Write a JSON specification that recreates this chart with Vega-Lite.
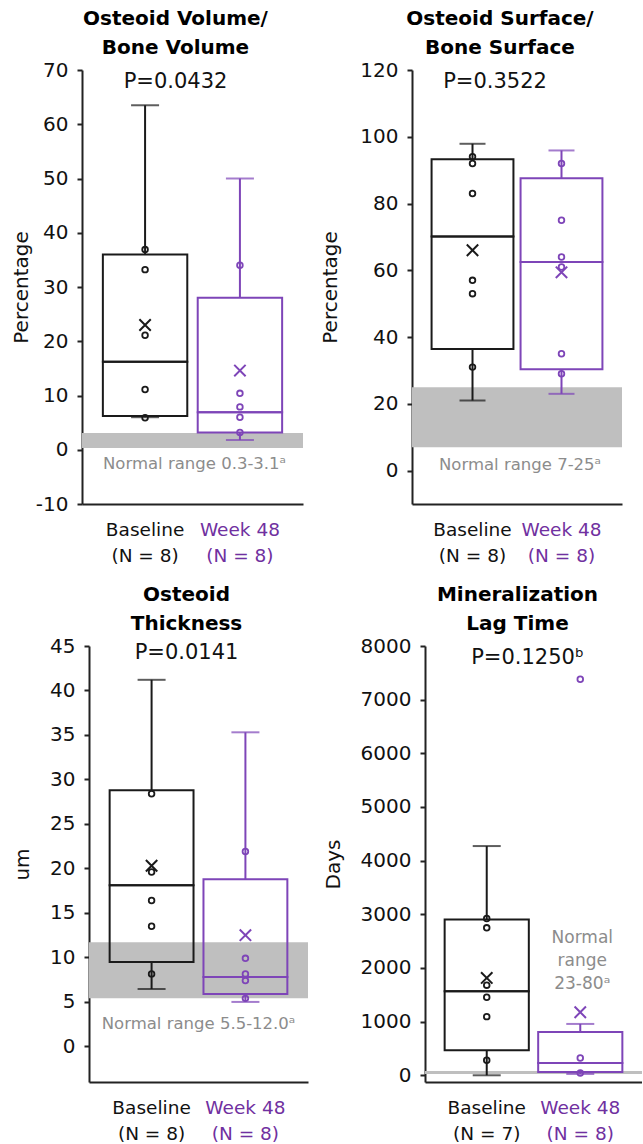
{
  "$schema": "https://vega.github.io/schema/vega-lite/v6.json",
  "padding": {"left": 11, "top": 9, "right": 0, "bottom": 0},
  "background": "white",
  "spacing": 20,
  "config": {
    "font": "DejaVu Sans",
    "view": {"stroke": null},
    "title": {"fontSize": 20, "fontWeight": "bold", "color": "#000", "lineHeight": 29, "offset": 2},
    "axisX": {"domainColor": "#222", "domainWidth": 2, "ticks": false, "labelAngle": 0, "labelFontSize": 18.5, "labelPadding": 16, "labelLineHeight": 26, "labelBaseline": "top"},
    "axisY": {"domainColor": "#222", "domainWidth": 2, "tickColor": "#222", "tickWidth": 2, "tickSize": 5, "grid": false, "labelFontSize": 20, "labelColor": "#111", "labelPadding": 9, "titleFontSize": 20, "titleFontWeight": "normal", "titleColor": "#111"}
  },
  "datasets": {
    "n1": [{"lo": 0.3, "hi": 3.1, "label": "Normal range 0.3-3.1ᵃ", "pval": "P=0.0432"}],
    "s1": [
      {"group": "Baseline", "min": 6, "q1": 6.2, "median": 16.2, "q3": 36, "max": 63.5, "mean": 23},
      {"group": "Week 48", "min": 1.8, "q1": 3.2, "median": 6.9, "q3": 28, "max": 50, "mean": 14.6}
    ],
    "p1": [
      {"group": "Baseline", "value": 36.9}, {"group": "Baseline", "value": 33.2}, {"group": "Baseline", "value": 21.1}, {"group": "Baseline", "value": 11.1}, {"group": "Baseline", "value": 5.9},
      {"group": "Week 48", "value": 34}, {"group": "Week 48", "value": 10.4}, {"group": "Week 48", "value": 7.9}, {"group": "Week 48", "value": 6.0}, {"group": "Week 48", "value": 3.2}
    ],
    "n2": [{"lo": 7, "hi": 25, "label": "Normal range 7-25ᵃ", "pval": "P=0.3522"}],
    "s2": [
      {"group": "Baseline", "min": 21, "q1": 36.4, "median": 70.1, "q3": 93.3, "max": 97.9, "mean": 66},
      {"group": "Week 48", "min": 23, "q1": 30.4, "median": 62.5, "q3": 87.6, "max": 95.9, "mean": 59.4}
    ],
    "p2": [
      {"group": "Baseline", "value": 94}, {"group": "Baseline", "value": 92}, {"group": "Baseline", "value": 83}, {"group": "Baseline", "value": 57}, {"group": "Baseline", "value": 53}, {"group": "Baseline", "value": 31},
      {"group": "Week 48", "value": 92}, {"group": "Week 48", "value": 75}, {"group": "Week 48", "value": 64}, {"group": "Week 48", "value": 61}, {"group": "Week 48", "value": 35}, {"group": "Week 48", "value": 29}
    ],
    "n3": [{"lo": 5.4, "hi": 11.7, "label": "Normal range 5.5-12.0ᵃ", "pval": "P=0.0141"}],
    "s3": [
      {"group": "Baseline", "min": 6.45, "q1": 9.5, "median": 18.1, "q3": 28.8, "max": 41.2, "mean": 20.3},
      {"group": "Week 48", "min": 5.0, "q1": 5.9, "median": 7.8, "q3": 18.8, "max": 35.3, "mean": 12.5}
    ],
    "p3": [
      {"group": "Baseline", "value": 28.4}, {"group": "Baseline", "value": 19.6}, {"group": "Baseline", "value": 16.4}, {"group": "Baseline", "value": 13.5}, {"group": "Baseline", "value": 8.15},
      {"group": "Week 48", "value": 21.9}, {"group": "Week 48", "value": 9.9}, {"group": "Week 48", "value": 8.15}, {"group": "Week 48", "value": 7.4}, {"group": "Week 48", "value": 5.4}
    ],
    "n4": [{"lo": 23, "hi": 80, "label": "Normal\nrange\n23-80ᵃ", "pval": "P=0.1250ᵇ"}],
    "s4": [
      {"group": "Baseline", "min": 0, "q1": 466, "median": 1567, "q3": 2903, "max": 4272, "mean": 1815},
      {"group": "Week 48", "min": 25, "q1": 62, "median": 230, "q3": 808, "max": 957, "mean": 1175}
    ],
    "p4": [
      {"group": "Baseline", "value": 2922}, {"group": "Baseline", "value": 2748}, {"group": "Baseline", "value": 1679}, {"group": "Baseline", "value": 1455}, {"group": "Baseline", "value": 1093}, {"group": "Baseline", "value": 280},
      {"group": "Week 48", "value": 7380}, {"group": "Week 48", "value": 323}, {"group": "Week 48", "value": 43}
    ]
  },
  "vconcat": [
    {
      "bounds": "flush",
      "spacing": 109,
      "hconcat": [
        {
          "width": 221, "height": 434,
          "title": {"text": ["Osteoid Volume/", "Bone Volume"], "dx": -17},
          "layer": [
            {"data": {"name": "n1"}, "mark": {"type": "rect", "color": "#BFBFBF"},
             "encoding": {"y": {"field": "lo", "type": "quantitative", "scale": {"domain": [-10, 70], "nice": false, "zero": false}, "axis": {"title": "Percentage", "values": [-10, 0, 10, 20, 30, 40, 50, 60, 70], "labelExpr": "'' + datum.value", "titlePadding": 4}}, "y2": {"field": "hi"}}},
            {"data": {"name": "n1"}, "mark": {"type": "text", "color": "#8C8C8C", "fontSize": 16.5, "dx": 2, "baseline": "middle"},
             "encoding": {"text": {"field": "label"}, "y": {"datum": -2.6}}},
            {"data": {"name": "n1"}, "mark": {"type": "text", "color": "#111", "fontSize": 21, "dx": -17, "baseline": "middle"},
             "encoding": {"text": {"field": "pval"}, "y": {"datum": 67.8}}},
            {"data": {"name": "s1"},
             "encoding": {
               "x": {"field": "group", "type": "nominal", "scale": {"domain": ["Baseline", "Week 48"], "paddingInner": 0.11, "paddingOuter": 0.22}, "axis": {"title": null, "labelExpr": "[datum.value, '(N = 8)']", "labelColor": {"condition": {"test": "datum.value === 'Week 48'", "value": "#7030A0"}, "value": "#111"}}},
               "color": {"field": "group", "type": "nominal", "scale": {"domain": ["Baseline", "Week 48"], "range": ["#1A1A1A", "#7E45B8"]}, "legend": null}
             },
             "layer": [
               {"mark": {"type": "rule", "strokeWidth": 2}, "encoding": {"y": {"field": "q3", "type": "quantitative"}, "y2": {"field": "max"}}},
               {"mark": {"type": "rule", "strokeWidth": 2}, "encoding": {"y": {"field": "min", "type": "quantitative"}, "y2": {"field": "q1"}}},
               {"mark": {"type": "tick", "thickness": 2, "size": 28}, "encoding": {"y": {"field": "max", "type": "quantitative"}}},
               {"mark": {"type": "tick", "thickness": 2, "size": 28}, "encoding": {"y": {"field": "min", "type": "quantitative"}}},
               {"mark": {"type": "bar", "filled": false, "strokeWidth": 2}, "encoding": {"y": {"field": "q1", "type": "quantitative"}, "y2": {"field": "median"}}},
               {"mark": {"type": "bar", "filled": false, "strokeWidth": 2}, "encoding": {"y": {"field": "median", "type": "quantitative"}, "y2": {"field": "q3"}}},
               {"mark": {"type": "point", "shape": "M-1,-1L1,1M1,-1L-1,1", "filled": false, "size": 130, "strokeWidth": 2, "opacity": 1}, "encoding": {"y": {"field": "mean", "type": "quantitative"}}}
             ]},
            {"data": {"name": "p1"}, "mark": {"type": "point", "shape": "circle", "filled": false, "size": 32, "strokeWidth": 1.8, "opacity": 1},
             "encoding": {"x": {"field": "group", "type": "nominal"}, "y": {"field": "value", "type": "quantitative"}, "color": {"field": "group", "type": "nominal", "legend": null}}}
          ]
        },
        {
          "width": 210, "height": 434,
          "title": {"text": ["Osteoid Surface/", "Bone Surface"], "dx": -17},
          "layer": [
            {"data": {"name": "n2"}, "mark": {"type": "rect", "color": "#BFBFBF"},
             "encoding": {"y": {"field": "lo", "type": "quantitative", "scale": {"domain": [-10, 120], "nice": false, "zero": false}, "axis": {"title": "Percentage", "values": [0, 20, 40, 60, 80, 100, 120], "labelExpr": "'' + datum.value", "titlePadding": 19}}, "y2": {"field": "hi"}}},
            {"data": {"name": "n2"}, "mark": {"type": "text", "color": "#8C8C8C", "fontSize": 16.5, "dx": 3, "baseline": "middle"},
             "encoding": {"text": {"field": "label"}, "y": {"datum": 1.8}}},
            {"data": {"name": "n2"}, "mark": {"type": "text", "color": "#111", "fontSize": 21, "dx": -22, "baseline": "middle"},
             "encoding": {"text": {"field": "pval"}, "y": {"datum": 116.4}}},
            {"data": {"name": "s2"},
             "encoding": {
               "x": {"field": "group", "type": "nominal", "scale": {"domain": ["Baseline", "Week 48"], "paddingInner": 0.08, "paddingOuter": 0.22}, "axis": {"title": null, "labelExpr": "[datum.value, '(N = 8)']", "labelColor": {"condition": {"test": "datum.value === 'Week 48'", "value": "#7030A0"}, "value": "#111"}}},
               "color": {"field": "group", "type": "nominal", "scale": {"domain": ["Baseline", "Week 48"], "range": ["#1A1A1A", "#7E45B8"]}, "legend": null}
             },
             "layer": [
               {"mark": {"type": "rule", "strokeWidth": 2}, "encoding": {"y": {"field": "q3", "type": "quantitative"}, "y2": {"field": "max"}}},
               {"mark": {"type": "rule", "strokeWidth": 2}, "encoding": {"y": {"field": "min", "type": "quantitative"}, "y2": {"field": "q1"}}},
               {"mark": {"type": "tick", "thickness": 2, "size": 26}, "encoding": {"y": {"field": "max", "type": "quantitative"}}},
               {"mark": {"type": "tick", "thickness": 2, "size": 26}, "encoding": {"y": {"field": "min", "type": "quantitative"}}},
               {"mark": {"type": "bar", "filled": false, "strokeWidth": 2}, "encoding": {"y": {"field": "q1", "type": "quantitative"}, "y2": {"field": "median"}}},
               {"mark": {"type": "bar", "filled": false, "strokeWidth": 2}, "encoding": {"y": {"field": "median", "type": "quantitative"}, "y2": {"field": "q3"}}},
               {"mark": {"type": "point", "shape": "M-1,-1L1,1M1,-1L-1,1", "filled": false, "size": 130, "strokeWidth": 2, "opacity": 1}, "encoding": {"y": {"field": "mean", "type": "quantitative"}}}
             ]},
            {"data": {"name": "p2"}, "mark": {"type": "point", "shape": "circle", "filled": false, "size": 32, "strokeWidth": 1.8, "opacity": 1},
             "encoding": {"x": {"field": "group", "type": "nominal"}, "y": {"field": "value", "type": "quantitative"}, "color": {"field": "group", "type": "nominal", "legend": null}}}
          ]
        }
      ]
    },
    {
      "bounds": "flush",
      "spacing": 6,
      "hconcat": [
        {"width": 1, "height": 1, "data": {"values": [{"a": 0}]}, "mark": {"type": "point", "opacity": 0}, "encoding": {}},
        {
          "bounds": "flush",
          "spacing": 117,
          "hconcat": [
            {
              "width": 219, "height": 436,
              "title": {"text": ["Osteoid", "Thickness"], "dx": -12},
              "layer": [
                {"data": {"name": "n3"}, "mark": {"type": "rect", "color": "#BFBFBF"},
                 "encoding": {"y": {"field": "lo", "type": "quantitative", "scale": {"domain": [-4, 45], "nice": false, "zero": false}, "axis": {"title": "um", "values": [0, 5, 10, 15, 20, 25, 30, 35, 40, 45], "labelExpr": "'' + datum.value", "titlePadding": 17}}, "y2": {"field": "hi"}}},
                {"data": {"name": "n3"}, "mark": {"type": "text", "color": "#8C8C8C", "fontSize": 16.5, "dx": 0, "baseline": "middle"},
                 "encoding": {"text": {"field": "label"}, "y": {"datum": 2.5}}},
                {"data": {"name": "n3"}, "mark": {"type": "text", "color": "#111", "fontSize": 21, "dx": -12, "baseline": "middle"},
                 "encoding": {"text": {"field": "pval"}, "y": {"datum": 44.2}}},
                {"data": {"name": "s3"},
                 "encoding": {
                   "x": {"field": "group", "type": "nominal", "scale": {"domain": ["Baseline", "Week 48"], "paddingInner": 0.106, "paddingOuter": 0.22}, "axis": {"title": null, "labelExpr": "[datum.value, '(N = 8)']", "labelColor": {"condition": {"test": "datum.value === 'Week 48'", "value": "#7030A0"}, "value": "#111"}}},
                   "color": {"field": "group", "type": "nominal", "scale": {"domain": ["Baseline", "Week 48"], "range": ["#1A1A1A", "#7E45B8"]}, "legend": null}
                 },
                 "layer": [
                   {"mark": {"type": "rule", "strokeWidth": 2}, "encoding": {"y": {"field": "q3", "type": "quantitative"}, "y2": {"field": "max"}}},
                   {"mark": {"type": "rule", "strokeWidth": 2}, "encoding": {"y": {"field": "min", "type": "quantitative"}, "y2": {"field": "q1"}}},
                   {"mark": {"type": "tick", "thickness": 2, "size": 28}, "encoding": {"y": {"field": "max", "type": "quantitative"}}},
                   {"mark": {"type": "tick", "thickness": 2, "size": 28}, "encoding": {"y": {"field": "min", "type": "quantitative"}}},
                   {"mark": {"type": "bar", "filled": false, "strokeWidth": 2}, "encoding": {"y": {"field": "q1", "type": "quantitative"}, "y2": {"field": "median"}}},
                   {"mark": {"type": "bar", "filled": false, "strokeWidth": 2}, "encoding": {"y": {"field": "median", "type": "quantitative"}, "y2": {"field": "q3"}}},
                   {"mark": {"type": "point", "shape": "M-1,-1L1,1M1,-1L-1,1", "filled": false, "size": 130, "strokeWidth": 2, "opacity": 1}, "encoding": {"y": {"field": "mean", "type": "quantitative"}}}
                 ]},
                {"data": {"name": "p3"}, "mark": {"type": "point", "shape": "circle", "filled": false, "size": 32, "strokeWidth": 1.8, "opacity": 1},
                 "encoding": {"x": {"field": "group", "type": "nominal"}, "y": {"field": "value", "type": "quantitative"}, "color": {"field": "group", "type": "nominal", "legend": null}}}
              ]
            },
            {
              "width": 217, "height": 436,
              "title": {"text": ["Mineralization", "Lag Time"], "dx": -16},
              "layer": [
                {"data": {"name": "n4"}, "mark": {"type": "rect", "color": "#BFBFBF"},
                 "encoding": {"y": {"field": "lo", "type": "quantitative", "scale": {"domain": [-125, 8000], "nice": false, "zero": false}, "axis": {"title": "Days", "values": [0, 1000, 2000, 3000, 4000, 5000, 6000, 7000, 8000], "labelExpr": "'' + datum.value", "titlePadding": 17}}, "y2": {"field": "hi"}}},
                {"data": {"name": "n4"}, "mark": {"type": "text", "color": "#8C8C8C", "fontSize": 17, "dx": 2, "baseline": "middle", "lineHeight": 23, "lineBreak": "\n"},
                 "encoding": {"text": {"field": "label"}, "x": {"datum": "Week 48"}, "y": {"datum": 2565}}},
                {"data": {"name": "n4"}, "mark": {"type": "text", "color": "#111", "fontSize": 21, "dx": -6, "baseline": "middle"},
                 "encoding": {"text": {"field": "pval"}, "y": {"datum": 7775}}},
                {"data": {"name": "s4"},
                 "encoding": {
                   "x": {"field": "group", "type": "nominal", "scale": {"domain": ["Baseline", "Week 48"], "paddingInner": 0.1, "paddingOuter": 0.21}, "axis": {"title": null, "labelExpr": "[datum.value, datum.value === 'Baseline' ? '(N = 7)' : '(N = 8)']", "labelColor": {"condition": {"test": "datum.value === 'Week 48'", "value": "#7030A0"}, "value": "#111"}}},
                   "color": {"field": "group", "type": "nominal", "scale": {"domain": ["Baseline", "Week 48"], "range": ["#1A1A1A", "#7E45B8"]}, "legend": null}
                 },
                 "layer": [
                   {"mark": {"type": "rule", "strokeWidth": 2}, "encoding": {"y": {"field": "q3", "type": "quantitative"}, "y2": {"field": "max"}}},
                   {"mark": {"type": "rule", "strokeWidth": 2}, "encoding": {"y": {"field": "min", "type": "quantitative"}, "y2": {"field": "q1"}}},
                   {"mark": {"type": "tick", "thickness": 2, "size": 28}, "encoding": {"y": {"field": "max", "type": "quantitative"}}},
                   {"mark": {"type": "tick", "thickness": 2, "size": 28}, "encoding": {"y": {"field": "min", "type": "quantitative"}}},
                   {"mark": {"type": "bar", "filled": false, "strokeWidth": 2}, "encoding": {"y": {"field": "q1", "type": "quantitative"}, "y2": {"field": "median"}}},
                   {"mark": {"type": "bar", "filled": false, "strokeWidth": 2}, "encoding": {"y": {"field": "median", "type": "quantitative"}, "y2": {"field": "q3"}}},
                   {"mark": {"type": "point", "shape": "M-1,-1L1,1M1,-1L-1,1", "filled": false, "size": 130, "strokeWidth": 2, "opacity": 1}, "encoding": {"y": {"field": "mean", "type": "quantitative"}}}
                 ]},
                {"data": {"name": "p4"}, "mark": {"type": "point", "shape": "circle", "filled": false, "size": 32, "strokeWidth": 1.8, "opacity": 1},
                 "encoding": {"x": {"field": "group", "type": "nominal"}, "y": {"field": "value", "type": "quantitative"}, "color": {"field": "group", "type": "nominal", "legend": null}}}
              ]
            }
          ]
        }
      ]
    }
  ]
}
